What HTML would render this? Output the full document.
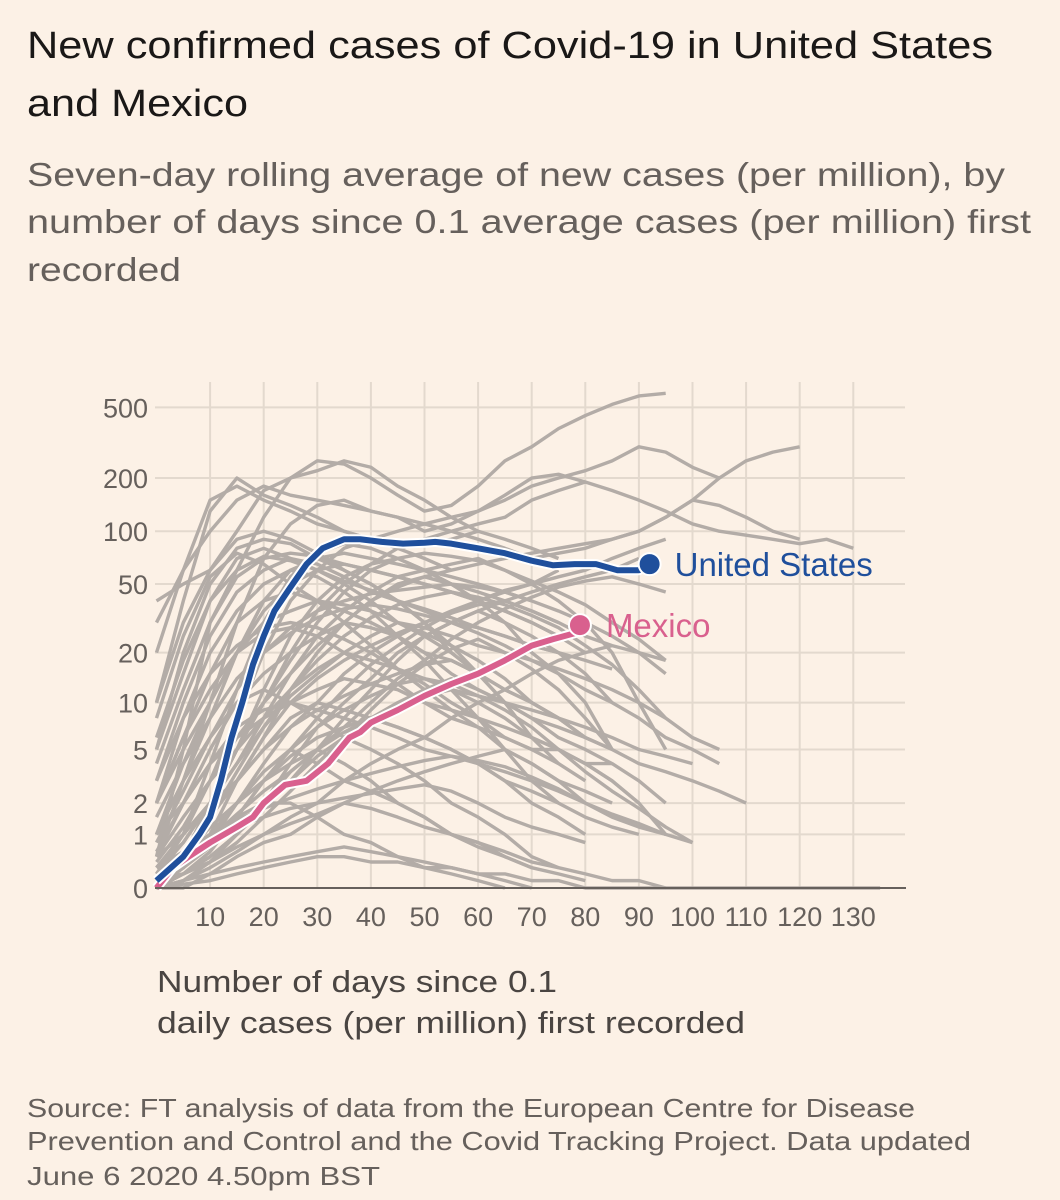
<!DOCTYPE html>
<html><head><meta charset="utf-8"><style>
html,body{margin:0;padding:0;background:#fcf1e6;}
svg{display:block;font-family:"Liberation Sans",sans-serif;}
</style></head><body>
<svg id="chart" width="1060" height="1200" viewBox="0 0 1060 1200">
<rect width="1060" height="1200" fill="#fcf1e6"/>
<text x="27" y="58" font-size="38" fill="#1a1817" textLength="966" lengthAdjust="spacingAndGlyphs">New confirmed cases of Covid-19 in United States</text>
<text x="27" y="116" font-size="38" fill="#1a1817" textLength="221" lengthAdjust="spacingAndGlyphs">and Mexico</text>
<text x="27" y="186" font-size="33" fill="#66605c" textLength="978" lengthAdjust="spacingAndGlyphs">Seven-day rolling average of new cases (per million), by</text>
<text x="27" y="233" font-size="33" fill="#66605c" textLength="1004" lengthAdjust="spacingAndGlyphs">number of days since 0.1 average cases (per million) first</text>
<text x="27" y="281" font-size="33" fill="#66605c" textLength="154" lengthAdjust="spacingAndGlyphs">recorded</text>
<g id="grid"></g>
<g id="gray"></g>
<g id="main"></g>
<g id="axes"></g>
<text x="157" y="992" font-size="31" fill="#4a4542" textLength="400" lengthAdjust="spacingAndGlyphs">Number of days since 0.1</text>
<text x="157" y="1033" font-size="31" fill="#4a4542" textLength="588" lengthAdjust="spacingAndGlyphs">daily cases (per million) first recorded</text>
<text x="27" y="1117" font-size="26" fill="#66605c" textLength="888" lengthAdjust="spacingAndGlyphs">Source: FT analysis of data from the European Centre for Disease</text>
<text x="27" y="1150" font-size="26" fill="#66605c" textLength="944" lengthAdjust="spacingAndGlyphs">Prevention and Control and the Covid Tracking Project. Data updated</text>
<text x="27" y="1185" font-size="26" fill="#66605c" textLength="353" lengthAdjust="spacingAndGlyphs">June 6 2020 4.50pm BST</text>
</svg>
<script>
const yTicks=[0,1,2,5,10,20,50,100,200,500];
const xTicks=[10,20,30,40,50,60,70,80,90,100,110,120,130];
const usDays=[0,5,8,10,12,14,16,18,20,22,25,28,31,35,38,42,46,50,52,55,60,65,70,74,78,82,86,90,92];
const usVals=[0.1,0.5,1,1.5,3,6,10,17,25,35,48,65,80,90,90,87,85,86,87,85,80,75,68,64,65,65,60,60,65];
const mxDays=[0,3,6,10,15,18,20,24,28,32,36,38,40,45,50,55,60,65,70,74,78,79];
const mxVals=[0,0.3,0.5,0.8,1.2,1.5,2,2.8,3,4,6,6.5,7.5,9,11,13,15,18,22,24,26,29];
const grayStep=5;
const graySeries=[
[0.5,5,30,60,120,200,250,240,200,160,130,140,180,250,300,380,450,520,580,600],
[20,60,150,180,150,130,110,100,90,80,70,60],
[40,50,60,100,170,200,220,250,230,180,150,120,100,90,80,70],
[10,40,130,200,160,140,120,100,90,80,85,90,100],
[1,3,10,30,70,110,140,150,130,120,100,110,130,150,180,200,220,250,300,280,230,200],
[0.2,1,3,8,20,40,60,80,90,100,110,120,130,160,200,210,190,170,150,130,110,100,95,90,85,90,80],
[5,15,40,70,80,70,60,50,40,30,25,20,15,10],
[0.1,0.5,2,5,12,25,40,55,65,70,60,50,40,30,20,15,10,5],
[0.3,1,2,4,8,15,25,35,45,55,60,65,70,60,50,40,30,20,10,5],
[2,8,20,35,50,60,55,45,35,25,18,12,8,5,3,2],
[0.1,0.3,0.8,2,4,7,10,15,20,25,30,35,40,45,50,55,60,70,80,90],
[1,4,10,20,40,60,70,75,70,65,60,55,50,45,40],
[0,0.2,0.5,1,2,3,5,8,12,18,25,30,35,30,25,20,15,10],
[0.5,2,5,10,15,20,25,30,28,25,20,18,15,12,10,8,6],
[3,10,25,45,60,70,65,55,45,40,35,30,28,25,22,20],
[0,0.1,0.3,0.6,1,1.5,2,3,4,5,6,8,10,12,15,18,20,22],
[0.2,0.5,1,1.5,2,2,1.5,1,0.8,0.5,0.3,0.2,0.1,0],
[1,3,6,10,12,10,8,6,5,4,3,2,1.5,1,0.5,0.3],
[0.1,0.4,1,3,6,10,14,18,22,26,30,34,38,40,35,30],
[5,20,50,80,90,85,70,60,50,40,30,22,15,10,6,4],
[0,0.5,1,2,3,4,5,4,3,2,1.5,1,0.8,0.5,0.3,0.2,0.1],
[0.3,1,2,5,10,20,35,50,65,80,90,100,110,120,150,170,190],
[0.1,0.2,0.5,1,2,4,7,10,14,20,25,30,35,40,45,50,55,60,70],
[2,6,15,30,40,45,40,35,30,25,20,15,12,10,8,6,5,4,3,2],
[0.5,1,2,3,5,7,9,11,13,15,17,18,15,12,10,8,6,5],
[0,0,0.2,0.5,0.8,1,1.5,2,2.5,3,3.5,4,4.5,5,4,3,2.5,2],
[10,30,60,90,100,90,75,60,50,40,30,20,15],
[0.2,1,4,12,30,55,75,85,80,70,60,50,40,35,30,25,20],
[0,0.1,0.2,0.3,0.4,0.5,0.6,0.7,0.6,0.5,0.4,0.3,0.2,0.1,0],
[1,2,4,6,8,10,12,14,13,12,10,9,8,7,6,5,4,3,2],
[0.1,0.3,0.7,1.5,3,5,8,12,17,22,28,34,40,46,50,60],
[0,0.5,1.5,3,5,8,10,9,8,7,6,5,4,3,2,1.5,1],
[30,60,100,150,180,160,150,140,130,120,110,100,90,80,70,75,80,90,100,120,150,200,250,280,300],
[0.5,1.5,3,5,8,12,16,20,18,16,14,12,10,8,6,5,4,3,2,1,0.8],
[0.1,0.2,0.4,0.8,1.5,2.5,4,6,9,13,17,21,24,20,16,12,8,5],
[0,0.3,0.8,1.2,1.5,1.8,2,2.2,2.4,2.6,2.8,2.5,2,1.5,1.2,1,0.8],
[4,12,30,55,70,75,72,65,60,55,50,45,40,35,30,25],
[0.2,0.6,1.5,3,6,12,20,30,40,50,55,60,65,70,75,80,85,90,100,120,150,140,120,100,90],
[0,0.05,0.1,0.2,0.3,0.4,0.5,0.5,0.4,0.4,0.3,0.3,0.2,0.2,0.1,0.1,0,0,0,0,0,0,0,0,0,0,0,0],
[0.3,0.8,2,4,7,11,15,20,25,30,28,25,22,20,18,16,14,12,10,8],
[0.5,3,8,20,35,50,60,65,60,55,50,45,40,35,30],
[0,0.2,0.6,1.5,3,5,4,3,2.5,2,1.5,1,0.7,0.5,0.3],
[2,5,10,20,30,35,40,38,35,30,26,22,18,14,10,8,6],
[0.1,0.5,1.2,2,3,4.5,6,7,8,7,6,5,4,3,2.5,2,1.5,1.2,1],
[8,25,55,75,65,50,40,30,22,16,12,9,7,5,4,3,2],
[0.2,0.8,2,5,10,18,30,45,60,70,75,72,68,60,52,45,38,30,24,18],
[0,0.3,0.9,2,3.5,5,7,9,11,13,14,13,11,9,7,5,3.5,2.5,1.8,1.2,0.8],
[1.5,4,8,14,20,26,32,36,38,36,33,30,26,22,18,15,12,10,8,6,5,4],
[0.1,0.2,0.5,1,1.8,3,4.5,6,8,10,12,14,12,10,8,7,6,5,4,3.5,3,2.5,2],
[0.4,1.2,3,6,10,15,22,30,40,48,55,50,45,40,35,30,25,22,20,18],
[3,8,15,22,28,30,28,24,20,16,13,10,8,6,5,4,3],
[0,0.1,0.4,1,2,3.5,5,7,10,14,18,24,30,36,42,48,52,55,50,45],
[0.6,2,4,7,9,10,9,8,7,6,5,4.5,4,3.5,3,2.5,2,1.5,1.2,1],
[0.1,0.5,1.5,3.5,7,12,18,25,32,38,42,45,42,38,33,28,22,17,12,8,6,5],
[2,6,12,20,26,28,25,20,16,13,10,8,7,6,5,5,4,4],
[0.3,0.6,1,1.4,1.8,2.2,2.6,3,3.4,3.8,4.2,4.5,4.2,3.8,3.2,2.6,2,1.6,1.3,1],
[6,18,40,60,72,68,60,52,46,40,36,32,28,25,22,20,18,16],
[0,0.2,0.4,0.7,1,1.3,1.6,2,1.8,1.5,1.2,1,0.8,0.6,0.4,0.3,0.2,0.1,0.1,0],
[0.8,2.5,6,12,20,28,35,40,44,46,48,50,48,45,40,35,30,25,20,15],
[0.2,0.4,0.9,1.6,2.5,3.5,5,6.5,8,9.5,11,12,11,10,9,8,7,6,5,4.5,4]
];
const NS="http://www.w3.org/2000/svg";
const X0=156.5,XS=5.36,Y0=888,YK=178;
function xs(d){return X0+d*XS;}
function ys(v){return Y0-YK*Math.log10(1+v);}
function mk(t,a){const e=document.createElementNS(NS,t);for(const k in a)e.setAttribute(k,a[k]);return e;}
const grid=document.getElementById('grid'),gray=document.getElementById('gray'),main=document.getElementById('main'),axes=document.getElementById('axes');
for(const v of yTicks){
  if(v>0){const l=mk('line',{x1:155,x2:905,y1:ys(v),y2:ys(v),stroke:'#e3d9ce','stroke-width':2});
  
  
  grid.appendChild(l);}
  const t=mk('text',{x:148,y:ys(v)+10,'text-anchor':'end','font-size':27,fill:'#66605c'});t.textContent=v;
  
  
  axes.appendChild(t);
}
for(const d of xTicks){
  const l=mk('line',{x1:xs(d),x2:xs(d),y1:382,y2:888,stroke:'#e3d9ce','stroke-width':2});
  
  
  grid.appendChild(l);
  const t=mk('text',{x:xs(d),y:926,'text-anchor':'middle','font-size':27,fill:'#66605c'});t.textContent=d;
  
  
  axes.appendChild(t);
}
const base=mk('line',{x1:155,x2:906,y1:888,y2:888,stroke:'#66605c','stroke-width':2});


axes.appendChild(base);
graySeries.forEach(s=>{
  const p=mk('polyline',{points:s.map((v,i)=>xs(i*grayStep)+','+ys(v)).join(' '),fill:'none',stroke:'#b3aca7','stroke-width':3.4,'stroke-linejoin':'round'});
  
  
  gray.appendChild(p);
});
function series(days,vals,color,name,label,lx,ly){
  const pts=days.map((d,i)=>xs(d)+','+ys(vals[i])).join(' ');
  const h=mk('polyline',{points:pts,fill:'none',stroke:'#fff','stroke-width':10,'stroke-linejoin':'round'});
  
  
  main.appendChild(h);
  const p=mk('polyline',{points:pts,fill:'none',stroke:color,'stroke-width':6,'stroke-linejoin':'round'});
  
  
  main.appendChild(p);
  const n=days.length-1;
  const c=mk('circle',{cx:xs(days[n]),cy:ys(vals[n]),r:11,fill:color,stroke:'#fff','stroke-width':2});
  
  
  main.appendChild(c);
  const t=mk('text',{x:xs(days[n])+lx,y:ys(vals[n])+ly,'font-size':33,fill:color});t.textContent=label;
  
  
  main.appendChild(t);
}
series(mxDays,mxVals,'#d9608e','mexico','Mexico',26,12);
series(usDays,usVals,'#1f4f9c','united-states','United States',25,12);
</script>
</body></html>
